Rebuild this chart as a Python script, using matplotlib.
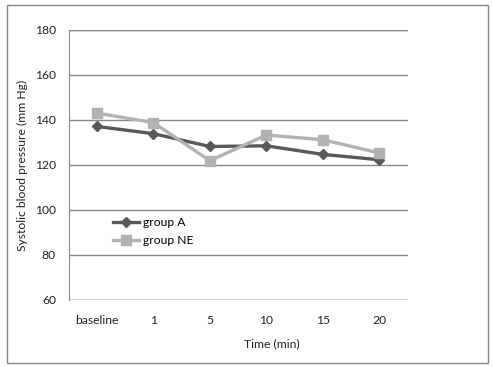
import matplotlib
matplotlib.use("Agg")
import matplotlib.pyplot as plt
from matplotlib.patches import Rectangle

categories = ["baseline", "1", "5", "10", "15", "20"]
group_a = [137, 133.8, 128.1, 128.4, 124.6, 122.2]
group_ne = [142.9, 138.7, 121.8, 133.2, 131.1, 125.2]
yticks = [60, 80, 100, 120, 140, 160, 180]

plt.rcParams['font.family'] = ['Lato', 'DejaVu Sans']
W, H = 493, 367
fig = plt.figure(figsize=(W/100, H/100), dpi=100)
fig.patch.set_facecolor('white')

# outer chart border
fig.patches.append(Rectangle((7/W, 1-363/H), (488-7)/W, (363-5)/H, transform=fig.transFigure,
                             fill=False, edgecolor='#888888', linewidth=1.0))

left, right, top, bottom = 68.5, 407.7, 29.5, 300
ax = fig.add_axes([left/W, 1-bottom/H, (right-left)/W, (bottom-top)/H])
x = list(range(len(categories)))
ax.plot(x, group_a, color='#595959', lw=2.4, marker='D', ms=5.5, label='group A', zorder=3)
ax.plot(x, group_ne, color='#b2b2b2', lw=2.4, marker='s', ms=7, label='group NE', zorder=3)
ax.set_xlim(-0.5, len(categories)-0.5)
ax.set_ylim(60, 180)
ax.set_yticks(yticks)
ax.set_xticks(x)
ax.set_xticklabels(categories)
ax.grid(axis='y', color='#888888', lw=1.0)
ax.set_axisbelow(True)
for s in ['top', 'right', 'bottom']:
    ax.spines[s].set_visible(False)
ax.spines['left'].set_color('#888888')
ax.tick_params(axis='both', length=0, labelsize=8.7, colors='#222222')
ax.tick_params(axis='x', pad=11)
ax.tick_params(axis='y', pad=9)
ax.axhline(180, color='#888888', lw=1.0)
ax.axhline(60, color='#888888', lw=1.0)

fig.text(22/W, 1-165/H, 'Systolic blood pressure (mm Hg)', rotation=90, ha='center', va='center',
         fontsize=8.7, color='#222222')
fig.text(272/W, 1-344/H, 'Time (min)', ha='center', va='center', fontsize=8.7, color='#222222')

leg = ax.legend(loc='upper left', bbox_to_anchor=((108-left)/(right-left), (bottom-212)/(bottom-top)),
                frameon=False, fontsize=8.7, handlelength=2.2, handletextpad=0.3, labelspacing=0.6,
                borderaxespad=0)

fig.savefig('out.png', dpi=100, facecolor='white')
